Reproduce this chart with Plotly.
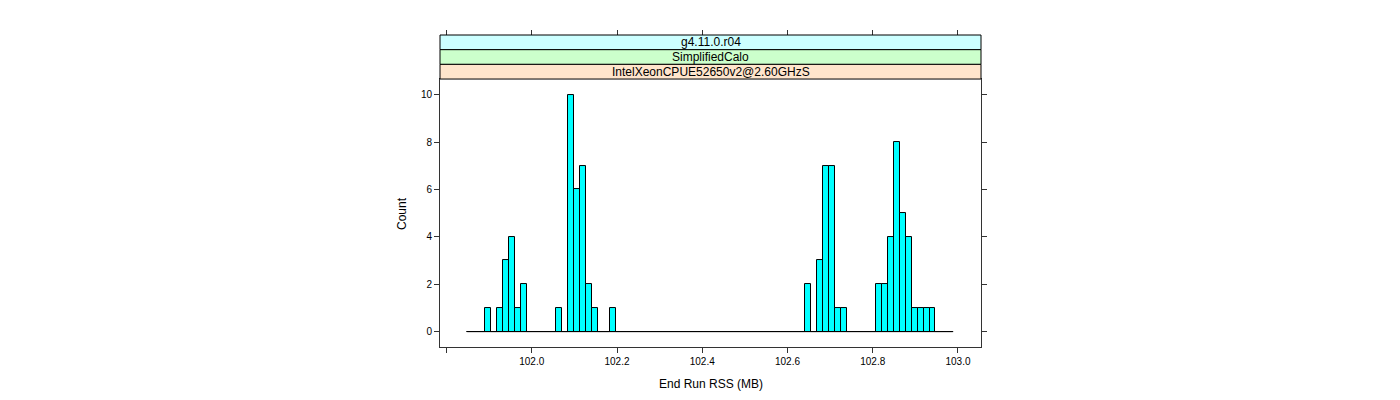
import plotly.graph_objects as go

# histogram breaks and counts
bin_start = 101.849
bin_width = 0.0139
counts = [0, 0, 0, 1, 0, 1, 3, 4, 1, 2,
          0, 0, 0, 0, 0, 1, 0, 10, 6, 7,
          2, 1, 0, 0, 1, 0, 0, 0, 0, 0,
          0, 0, 0, 0, 0, 0, 0, 0, 0, 0,
          0, 0, 0, 0, 0, 0, 0, 0, 0, 0,
          0, 0, 0, 0, 0, 0, 0, 2, 0, 3,
          7, 7, 1, 1, 0, 0, 0, 0, 0, 2,
          2, 4, 8, 5, 4, 1, 1, 1, 1, 0,
          0, 0]

x_ticks = [101.8, 102.0, 102.2, 102.4, 102.6, 102.8, 103.0]
x_ticktext = ["", "102.0", "102.2", "102.4", "102.6", "102.8", "103.0"]
y_ticks = [0, 2, 4, 6, 8, 10]

strip_labels = ["g4.11.0.r04", "SimplifiedCalo", "IntelXeonCPUE52650v2@2.60GHzS"]
strip_colors = ["#ccffff", "#ccffcc", "#ffe5cc"]

x_title = "End Run RSS (MB)"
y_title = "Count"

breaks = [bin_start + i * bin_width for i in range(len(counts) + 1)]
centers = [(breaks[i] + breaks[i + 1]) / 2 for i in range(len(counts))]

# pixel layout of the lattice panel (page body adds an 8px offset)
W, H = 1400, 400
off = 8
left, right = 440 - off, 980.7 - off
strip_top, panel_top, panel_bottom = 35 - off, 79 - off, 346.7 - off
area_h = panel_bottom - strip_top


def py(pix):
    return (panel_bottom - pix) / area_h


fig = go.Figure()

# zero-count bins show up as a baseline
fig.add_trace(go.Scatter(x=[breaks[0], breaks[-1]], y=[0, 0], mode="lines",
                         line=dict(color="black", width=1), hoverinfo="skip",
                         showlegend=False))

fig.add_trace(go.Bar(x=centers, y=counts, width=bin_width,
                     marker=dict(color="#00ffff", line=dict(color="black", width=1)),
                     showlegend=False))

x_range = [101.7847, 103.054]

# dummy trace so the top tick axis gets drawn
fig.add_trace(go.Scatter(x=x_range, y=[None, None], xaxis="x2", mode="lines",
                         hoverinfo="skip", showlegend=False))

# strips above the panel
strip_h = (panel_top - strip_top) / len(strip_labels)
for i, (lab, col) in enumerate(zip(strip_labels, strip_colors)):
    y1 = strip_top + i * strip_h
    y0 = y1 + strip_h
    fig.add_shape(type="rect", xref="paper", yref="paper", x0=0, x1=1,
                  y0=py(y0), y1=py(y1), fillcolor=col,
                  line=dict(color="black", width=1), layer="above")
    fig.add_annotation(xref="paper", yref="paper", x=0.5, y=py((y0 + y1) / 2),
                       text=lab, showarrow=False, yanchor="middle",
                       font=dict(size=12, color="black"))

fig.add_annotation(xref="paper", yref="paper", x=0.5, y=py(384 - off), text=x_title,
                   showarrow=False, yanchor="middle", font=dict(size=12, color="black"))
fig.add_annotation(xref="paper", yref="paper", x=(402 - off - left) / (right - left),
                   y=py((panel_top + panel_bottom) / 2), text=y_title, textangle=-90,
                   showarrow=False, xanchor="center", yanchor="middle",
                   font=dict(size=12, color="black"))

fig.update_layout(
    width=W, height=H,
    margin=dict(l=left, r=W - right, t=strip_top, b=H - panel_bottom, pad=0),
    plot_bgcolor="white", paper_bgcolor="white",
    bargap=0,
    font=dict(family="Liberation Sans, Arial, sans-serif", size=10, color="black"),
    xaxis=dict(range=x_range, tickvals=x_ticks, ticktext=x_ticktext,
               ticks="outside", ticklen=5, tickcolor="#333", showgrid=False,
               zeroline=False, showline=True, linecolor="#333", linewidth=1,
               mirror=True, tickfont=dict(size=10)),
    xaxis2=dict(range=x_range, tickvals=x_ticks, overlaying="x", side="top",
                anchor="free", position=1, ticks="outside", ticklen=5,
                tickcolor="#333", showticklabels=False, showgrid=False,
                zeroline=False, showline=False),
    yaxis=dict(range=[-0.65, 10.66], domain=[0, py(panel_top)], tickvals=y_ticks,
               ticks="outside", ticklen=5, tickcolor="#333", showgrid=False,
               zeroline=False, showline=True, linecolor="#333", linewidth=1,
               mirror="ticks", tickfont=dict(size=10)),
)

fig.write_html("out.html")
